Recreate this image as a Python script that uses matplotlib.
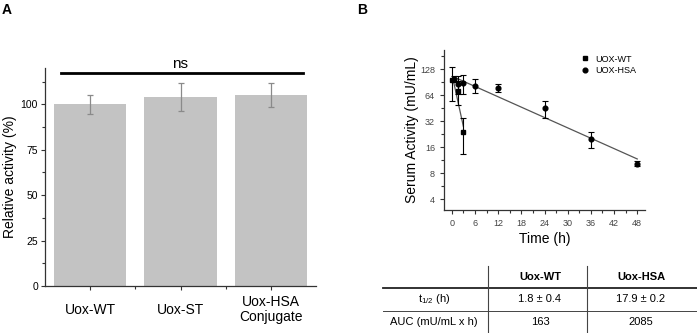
import numpy as np
import matplotlib.pyplot as plt
from matplotlib.lines import Line2D
from matplotlib.ticker import FixedLocator, NullFormatter

# Panel A: relative activity
groups = ["Uox-WT", "Uox-ST", "Uox-HSA\nConjugate"]
rel_activity = [100, 104, 105]
rel_err = [5.2, 7.5, 6.5]

# Panel B: serum activity over time
wt_t = [0, 1.5, 3]
wt_y = [95, 72, 24.2]
wt_err = [40, 22, 11]
hsa_t = [0.5, 1.5, 3, 6, 12, 24, 36, 48]
hsa_y = [100, 86, 88, 83, 78, 45, 19.8, 10.3]
hsa_err = [8, 20, 21, 15, 8, 10, 4, 0.7]
wt_fit_t = [0.3, 3]
wt_fit_y = [100, 28]
hsa_fit_t = [0.8, 48]
hsa_fit_y = [103, 11.7]

# table under panel B
table_cols = ["Uox-WT", "Uox-HSA"]
table_rows = [r"t$_{\mathregular{1/2}}$ (h)", "AUC (mU/mL x h)"]
table_vals = [["1.8 ± 0.4", "17.9 ± 0.2"], ["163", "2085"]]

W, H = 697, 333
plt.rcParams['font.family'] = ['Liberation Sans', 'DejaVu Sans']
fig = plt.figure(figsize=(W / 100, H / 100), dpi=100)

def fx(x):
    return x / W

def fy(y):
    return 1 - y / H

axis_col = "#333333"

# ---- Panel A ----
axA = fig.add_axes([fx(45), fy(286), fx(316) - fx(45), fy(68) - fy(286)])
xa = np.arange(len(groups))
axA.bar(xa, rel_activity, width=0.8, color="#c3c3c3")
axA.errorbar(xa, rel_activity, yerr=rel_err, fmt="none", ecolor="#8a8a8a",
             elinewidth=0.9, capsize=2.5, capthick=0.9)
axA.set_xlim(-0.5, 2.5)
axA.set_ylim(0, 120)
axA.set_xticks(xa)
axA.set_xticklabels(groups, fontsize=10, linespacing=1.15, va="center")
axA.xaxis.set_minor_locator(FixedLocator([0.5, 1.5]))
axA.set_yticks([0, 25, 50, 75, 100])
axA.yaxis.set_minor_locator(FixedLocator(np.arange(12.5, 120, 25)))
axA.tick_params(axis="y", labelsize=7.5, length=3, width=0.8, colors=axis_col, labelcolor="black", pad=2)
axA.tick_params(axis="x", length=3, width=0.8, colors=axis_col, labelcolor="black", pad=14)
axA.tick_params(which="minor", length=2, width=0.8, colors=axis_col)
axA.set_ylabel("Relative activity (%)", fontsize=10, labelpad=3)
for s in ["top", "right"]:
    axA.spines[s].set_visible(False)
for s in ["left", "bottom"]:
    axA.spines[s].set_color(axis_col)
    axA.spines[s].set_linewidth(0.9)
axA.plot([-0.32, 2.36], [117.2, 117.2], color="black", lw=2, clip_on=False)
axA.text(1.0, 118.6, "ns", ha="center", va="bottom", fontsize=11)

# ---- Panel B ----
axB = fig.add_axes([fx(444), fy(210), fx(645) - fx(444), fy(50) - fy(210)])
axB.set_yscale("log", base=2)
axB.plot(wt_fit_t, wt_fit_y, color="#555555", lw=0.9)
axB.plot(hsa_fit_t, hsa_fit_y, color="#555555", lw=0.9)
axB.errorbar(wt_t, wt_y, yerr=wt_err, fmt="none", ecolor="black", elinewidth=0.8, capsize=2, capthick=0.8)
axB.errorbar(hsa_t, hsa_y, yerr=hsa_err, fmt="none", ecolor="black", elinewidth=0.8, capsize=2, capthick=0.8)
axB.plot(wt_t, wt_y, "s", color="black", ms=3.2, label="UOX-WT", zorder=5)
axB.plot(hsa_t, hsa_y, "o", color="black", ms=3.4, label="UOX-HSA", zorder=5)
axB.set_xlim(-2, 50)
axB.set_ylim(3.0, 214)
axB.set_xticks(np.arange(0, 49, 6))
axB.xaxis.set_minor_locator(FixedLocator(np.arange(3, 49, 6)))
yt = [4, 8, 16, 32, 64, 128]
axB.yaxis.set_major_locator(FixedLocator(yt))
axB.set_yticklabels([str(v) for v in yt])
axB.yaxis.set_minor_locator(FixedLocator([v * np.sqrt(2) for v in yt]))
axB.yaxis.set_minor_formatter(NullFormatter())
axB.tick_params(which="major", labelsize=6.5, length=3, width=0.8, colors=axis_col, labelcolor="#444444")
axB.tick_params(which="minor", length=2, width=0.8, colors=axis_col)
axB.set_xlabel("Time (h)", fontsize=10, labelpad=3)
axB.set_ylabel("Serum Activity (mU/mL)", fontsize=10, labelpad=1)
for s in ["top", "right"]:
    axB.spines[s].set_visible(False)
for s in ["left", "bottom"]:
    axB.spines[s].set_color(axis_col)
    axB.spines[s].set_linewidth(0.9)
axB.legend(loc="upper left", bbox_to_anchor=(0.66, 1.0), frameon=False, fontsize=6.5,
           handlelength=0.8, handletextpad=0.8, labelspacing=0.3, borderpad=0)

# ---- table ----
col_x = [434, 540, 641]
row_y = [299, 322]
for j, c in enumerate(table_cols):
    fig.text(fx(col_x[j + 1]), fy(277), c, ha="center", va="center", fontsize=8, fontweight="bold")
for i, r in enumerate(table_rows):
    fig.text(fx(col_x[0]), fy(row_y[i]), r, ha="center", va="center", fontsize=8)
    for j, v in enumerate(table_vals[i]):
        fig.text(fx(col_x[j + 1]), fy(row_y[i]), v, ha="center", va="center", fontsize=8)
fig.add_artist(Line2D([fx(383), fx(697)], [fy(287.7), fy(287.7)], color="#222222", lw=1.3))
fig.add_artist(Line2D([fx(383), fx(697)], [fy(311), fy(311)], color="#444444", lw=0.7))
for vx in [487.7, 587.3]:
    fig.add_artist(Line2D([fx(vx), fx(vx)], [fy(266), fy(333)], color="#444444", lw=0.8))

fig.text(fx(2), fy(3), "A", ha="left", va="top", fontsize=10, fontweight="bold")
fig.text(fx(357), fy(3), "B", ha="left", va="top", fontsize=10, fontweight="bold")

fig.savefig("out.png", dpi=100)
